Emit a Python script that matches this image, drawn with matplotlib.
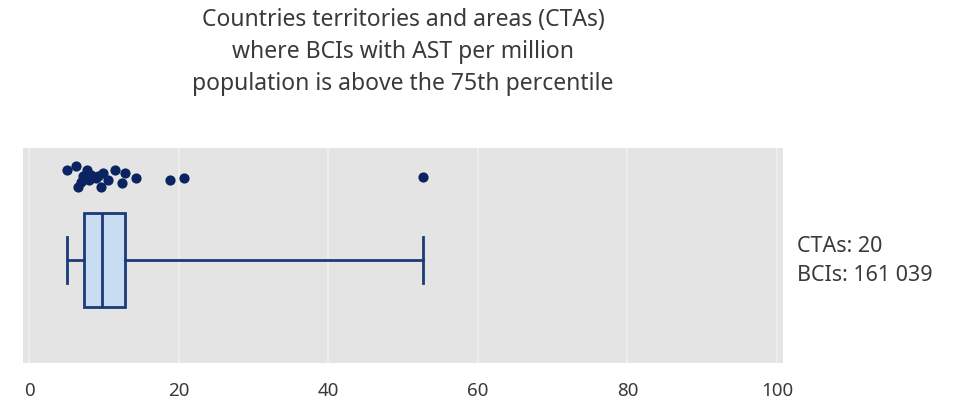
import matplotlib.pyplot as plt

plt.rcParams['font.family'] = ['Noto Sans', 'DejaVu Sans']

# valores por CTA (BCIs con AST por millón)
cta_values = [5.1, 6.25, 6.5, 6.9, 7.2, 7.8, 8.0, 8.25, 8.9, 9.2,
              9.6, 9.95, 10.5, 11.5, 12.5, 12.9, 14.3, 18.9, 20.7, 52.7]
# posición vertical (jitter) de cada punto
cta_jitter = [0.898, 0.918, 0.820, 0.843, 0.870, 0.898, 0.851, 0.874, 0.860, 0.870,
              0.820, 0.884, 0.851, 0.898, 0.837, 0.884, 0.860, 0.851, 0.860, 0.864]

# resumen de la caja
box_min = 5.1
box_q1 = 7.4
box_med = 9.8
box_q3 = 12.9
box_max = 52.7

x_ticks = [0, 20, 40, 60, 80, 100]
title = ("Countries territories and areas (CTAs)\n"
         "where BCIs with AST per million\n"
         "population is above the 75th percentile")
side_text = "CTAs: 20\nBCIs: 161 039"

navy = "#0b2360"
text_col = "#3a3a3a"

fig = plt.figure(figsize=(9.7, 4.04), dpi=100)
ax = fig.add_axes([0.0237, 0.1015, 0.7835, 0.532])
ax.set_facecolor("#e4e4e4")

stats = [{"whislo": box_min, "q1": box_q1, "med": box_med,
          "q3": box_q3, "whishi": box_max, "fliers": []}]
ax.bxp(stats, positions=[0.479], widths=0.435, vert=False, showfliers=False,
       patch_artist=True,
       boxprops=dict(facecolor="#c8dcf2", edgecolor="#1c3a78", linewidth=2),
       medianprops=dict(color="#1c3a78", linewidth=2),
       whiskerprops=dict(color="#1c3a78", linewidth=2),
       capprops=dict(color="#1c3a78", linewidth=2), zorder=3)

ax.scatter(cta_values, cta_jitter, s=54, color=navy, zorder=4, linewidths=0)

ax.set_xlim(-0.8, 100.8)
ax.set_ylim(0, 1)
ax.set_xticks(x_ticks)
ax.set_xticklabels([str(t) for t in x_ticks])
ax.set_yticks([])
ax.grid(axis="x", color="#f0f0f0", linewidth=1.2, zorder=0)
ax.set_axisbelow(True)
ax.tick_params(axis="x", length=0, pad=14, labelsize=13.5, labelcolor=text_col)
for s in ax.spines.values():
    s.set_visible(False)

fig.text(403 / 970, 1 - 52 / 404, title, ha="center", va="center",
         fontsize=16.5, color=text_col, linespacing=1.42)
fig.text(797 / 970, 1 - 261 / 404, side_text, ha="left", va="center",
         fontsize=15.5, color=text_col, linespacing=1.5)

fig.savefig("out.png", dpi=100)
